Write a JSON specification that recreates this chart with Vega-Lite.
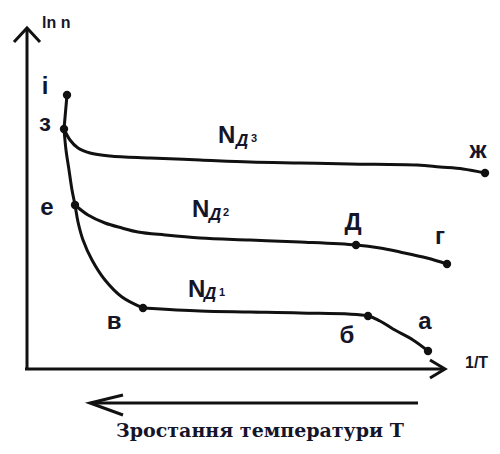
{
  "$schema": "https://vega.github.io/schema/vega-lite/v6.json",
  "width": 500,
  "height": 454,
  "autosize": {"type": "fit", "contains": "padding"},
  "padding": 0,
  "background": "white",
  "view": {"stroke": null},
  "config": {"axis": {"disable": true}},
  "datasets": {
    "axes": [
      {"seg": "yaxis", "ord": 1, "x": 0, "y": 0},
      {"seg": "yaxis", "ord": 2, "x": 0, "y": 340},
      {"seg": "yhead", "ord": 1, "x": -13, "y": 327},
      {"seg": "yhead", "ord": 2, "x": 0, "y": 341},
      {"seg": "yhead", "ord": 3, "x": 13, "y": 327},
      {"seg": "xaxis", "ord": 1, "x": -2, "y": 0},
      {"seg": "xaxis", "ord": 2, "x": 417, "y": 0},
      {"seg": "xhead", "ord": 1, "x": 403, "y": 9},
      {"seg": "xhead", "ord": 2, "x": 418, "y": 0},
      {"seg": "xhead", "ord": 3, "x": 403, "y": -9},
      {"seg": "tarrow", "ord": 1, "x": 64, "y": -34},
      {"seg": "tarrow", "ord": 2, "x": 391, "y": -34},
      {"seg": "thead", "ord": 1, "x": 96, "y": -26},
      {"seg": "thead", "ord": 2, "x": 63, "y": -34},
      {"seg": "thead", "ord": 3, "x": 96, "y": -46},
      {"seg": "iz", "ord": 1, "x": 40, "y": 274},
      {"seg": "iz", "ord": 2, "x": 37, "y": 240}
    ],
    "curves": [
      {"curve": "intrinsic", "ord": 1, "x": 37, "y": 240},
      {"curve": "intrinsic", "ord": 2, "x": 39, "y": 219},
      {"curve": "intrinsic", "ord": 3, "x": 42, "y": 199},
      {"curve": "intrinsic", "ord": 4, "x": 45, "y": 179},
      {"curve": "intrinsic", "ord": 5, "x": 48, "y": 164},
      {"curve": "intrinsic", "ord": 6, "x": 51, "y": 147},
      {"curve": "intrinsic", "ord": 7, "x": 56, "y": 129},
      {"curve": "intrinsic", "ord": 8, "x": 65, "y": 109},
      {"curve": "intrinsic", "ord": 9, "x": 78, "y": 89},
      {"curve": "intrinsic", "ord": 10, "x": 95, "y": 72},
      {"curve": "intrinsic", "ord": 11, "x": 116, "y": 61},
      {"curve": "Nd3", "ord": 1, "x": 37, "y": 240},
      {"curve": "Nd3", "ord": 2, "x": 43, "y": 229},
      {"curve": "Nd3", "ord": 3, "x": 51, "y": 221},
      {"curve": "Nd3", "ord": 4, "x": 63, "y": 216},
      {"curve": "Nd3", "ord": 5, "x": 83, "y": 213},
      {"curve": "Nd3", "ord": 6, "x": 123, "y": 211},
      {"curve": "Nd3", "ord": 7, "x": 173, "y": 209},
      {"curve": "Nd3", "ord": 8, "x": 223, "y": 207},
      {"curve": "Nd3", "ord": 9, "x": 273, "y": 206},
      {"curve": "Nd3", "ord": 10, "x": 323, "y": 205},
      {"curve": "Nd3", "ord": 11, "x": 390, "y": 204},
      {"curve": "Nd3", "ord": 12, "x": 413, "y": 202},
      {"curve": "Nd3", "ord": 13, "x": 436, "y": 200},
      {"curve": "Nd3", "ord": 14, "x": 458, "y": 196},
      {"curve": "Nd2", "ord": 1, "x": 48, "y": 164},
      {"curve": "Nd2", "ord": 2, "x": 61, "y": 154},
      {"curve": "Nd2", "ord": 3, "x": 78, "y": 146},
      {"curve": "Nd2", "ord": 4, "x": 95, "y": 141},
      {"curve": "Nd2", "ord": 5, "x": 111, "y": 137},
      {"curve": "Nd2", "ord": 6, "x": 138, "y": 134},
      {"curve": "Nd2", "ord": 7, "x": 173, "y": 131},
      {"curve": "Nd2", "ord": 8, "x": 223, "y": 129},
      {"curve": "Nd2", "ord": 9, "x": 273, "y": 127},
      {"curve": "Nd2", "ord": 10, "x": 329, "y": 124},
      {"curve": "Nd2", "ord": 11, "x": 353, "y": 121},
      {"curve": "Nd2", "ord": 12, "x": 373, "y": 117},
      {"curve": "Nd2", "ord": 13, "x": 400, "y": 111},
      {"curve": "Nd2", "ord": 14, "x": 420, "y": 105},
      {"curve": "Nd1", "ord": 1, "x": 116, "y": 61},
      {"curve": "Nd1", "ord": 2, "x": 173, "y": 58},
      {"curve": "Nd1", "ord": 3, "x": 223, "y": 57},
      {"curve": "Nd1", "ord": 4, "x": 273, "y": 56},
      {"curve": "Nd1", "ord": 5, "x": 341, "y": 53},
      {"curve": "Nd1", "ord": 6, "x": 353, "y": 48},
      {"curve": "Nd1", "ord": 7, "x": 366, "y": 40},
      {"curve": "Nd1", "ord": 8, "x": 386, "y": 29},
      {"curve": "Nd1", "ord": 9, "x": 401, "y": 18}
    ],
    "points": [
      {"name": "i", "x": 40, "y": 274, "lx": 18, "ly": 282},
      {"name": "з", "x": 37, "y": 240, "lx": 18, "ly": 245},
      {"name": "е", "x": 48, "y": 164, "lx": 20, "ly": 161},
      {"name": "в", "x": 116, "y": 61, "lx": 87, "ly": 47},
      {"name": "Д", "x": 329, "y": 124, "lx": 326, "ly": 146},
      {"name": "г", "x": 420, "y": 105, "lx": 413, "ly": 132},
      {"name": "ж", "x": 458, "y": 196, "lx": 451, "ly": 218},
      {"name": "б", "x": 341, "y": 53, "lx": 320, "ly": 33},
      {"name": "а", "x": 401, "y": 18, "lx": 398, "ly": 47}
    ],
    "nlabels": [
      {"n": "N", "d": "Д", "k": "3", "nx": 191, "ny": 226, "dx": 209, "dy": 223, "kx": 224, "ky": 227},
      {"n": "N", "d": "Д", "k": "2", "nx": 165, "ny": 152, "dx": 182, "dy": 149, "kx": 196, "ky": 153},
      {"n": "N", "d": "Д", "k": "1", "nx": 161, "ny": 72, "dx": 177, "dy": 70, "kx": 192, "ky": 73}
    ],
    "axislabels": [
      {"text": "ln n", "x": 15, "y": 346},
      {"text": "1/T", "x": 438, "y": 6}
    ],
    "title": [
      {"text": "Зростання температури T", "x": 233, "y": -68}
    ]
  },
  "layer": [
    {
      "data": {"name": "axes"},
      "mark": {"type": "line", "color": "#111111", "strokeWidth": 3, "strokeJoin": "miter"},
      "encoding": {
        "x": {"field": "x", "type": "quantitative", "scale": {"domain": [-27, 473], "nice": false, "zero": false}},
        "y": {"field": "y", "type": "quantitative", "scale": {"domain": [-85, 369], "nice": false, "zero": false}},
        "detail": {"field": "seg"},
        "order": {"field": "ord"}
      }
    },
    {
      "data": {"name": "curves"},
      "mark": {"type": "line", "color": "#111111", "strokeWidth": 3, "interpolate": "catmull-rom"},
      "encoding": {
        "x": {"field": "x", "type": "quantitative", "scale": {"domain": [-27, 473], "nice": false, "zero": false}},
        "y": {"field": "y", "type": "quantitative", "scale": {"domain": [-85, 369], "nice": false, "zero": false}},
        "detail": {"field": "curve"},
        "order": {"field": "ord"}
      }
    },
    {
      "data": {"name": "points"},
      "mark": {"type": "circle", "color": "#111111", "opacity": 1, "size": 70},
      "encoding": {
        "x": {"field": "x", "type": "quantitative"},
        "y": {"field": "y", "type": "quantitative"}
      }
    },
    {
      "data": {"name": "points"},
      "mark": {"type": "text", "font": "Liberation Sans", "fontWeight": "bold", "fontSize": 24, "color": "#15152a", "align": "center", "baseline": "middle"},
      "encoding": {
        "x": {"field": "lx", "type": "quantitative"},
        "y": {"field": "ly", "type": "quantitative"},
        "text": {"field": "name"}
      }
    },
    {
      "data": {"name": "nlabels"},
      "mark": {"type": "text", "font": "Liberation Sans", "fontWeight": "bold", "fontSize": 24, "color": "#15152a", "align": "left", "baseline": "alphabetic"},
      "encoding": {
        "x": {"field": "nx", "type": "quantitative"},
        "y": {"field": "ny", "type": "quantitative"},
        "text": {"field": "n"}
      }
    },
    {
      "data": {"name": "nlabels"},
      "mark": {"type": "text", "font": "Liberation Sans", "fontWeight": "bold", "fontStyle": "italic", "fontSize": 17, "color": "#15152a", "align": "left", "baseline": "alphabetic"},
      "encoding": {
        "x": {"field": "dx", "type": "quantitative"},
        "y": {"field": "dy", "type": "quantitative"},
        "text": {"field": "d"}
      }
    },
    {
      "data": {"name": "nlabels"},
      "mark": {"type": "text", "font": "Liberation Sans", "fontWeight": "bold", "fontSize": 11, "color": "#15152a", "align": "left", "baseline": "alphabetic"},
      "encoding": {
        "x": {"field": "kx", "type": "quantitative"},
        "y": {"field": "ky", "type": "quantitative"},
        "text": {"field": "k"}
      }
    },
    {
      "data": {"name": "axislabels"},
      "mark": {"type": "text", "font": "Liberation Sans", "fontWeight": "bold", "fontSize": 16, "color": "#15152a", "align": "left", "baseline": "middle"},
      "encoding": {
        "x": {"field": "x", "type": "quantitative"},
        "y": {"field": "y", "type": "quantitative"},
        "text": {"field": "text"}
      }
    },
    {
      "data": {"name": "title"},
      "mark": {"type": "text", "font": "DejaVu Serif", "fontWeight": "bold", "fontSize": 19, "color": "#15152a", "align": "center", "baseline": "alphabetic"},
      "encoding": {
        "x": {"field": "x", "type": "quantitative"},
        "y": {"field": "y", "type": "quantitative"},
        "text": {"field": "text"}
      }
    }
  ]
}
